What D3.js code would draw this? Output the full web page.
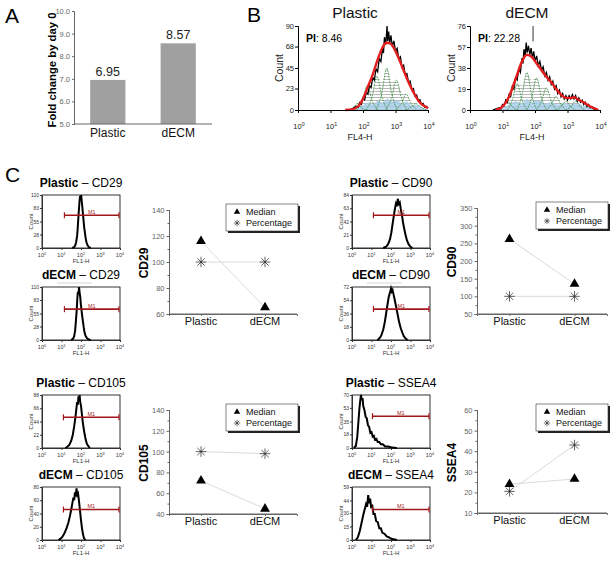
<!DOCTYPE html>
<html><head><meta charset="utf-8">
<script src="https://cdn.jsdelivr.net/npm/d3@7"></script>
<style>
body{margin:0;background:#fff}
svg{display:block;font-family:"Liberation Sans",Arial,sans-serif}
</style>
</head><body>
<svg id="c" width="612" height="563"></svg>
<script>
// ---------------- DATA ----------------
const categories = ["Plastic", "dECM"];
const foldChange = [6.95, 8.57];
const foldTicks = [5, 6, 7, 8, 9, 10];
const decades = [0, 1, 2, 3, 4];

// Panel B (x in log10 FL4-H, y = count)
const bTitles = ["Plastic", "dECM"];
const bPI = ["8.46", "22.28"];
const bPlasticTicks = [0, 23, 45, 68, 90];
const bDecmTicks = [0, 19, 38, 57, 76];
const bPlasticBlack = [[1.5,0],[1.6,0],[1.7,2],[1.8,4],[1.85,3],[1.9,8],[1.95,6],[2.0,13],[2.05,11],[2.1,19],[2.15,17],[2.2,26],[2.25,24],[2.3,35],[2.35,32],[2.4,44],[2.45,41],[2.5,55],[2.55,52],[2.6,66],[2.63,61],[2.66,78],[2.7,70],[2.74,90],[2.76,74],[2.79,84],[2.82,72],[2.86,80],[2.9,68],[2.95,74],[3.0,63],[3.05,66],[3.1,55],[3.15,57],[3.2,46],[3.25,48],[3.3,38],[3.35,39],[3.4,30],[3.45,31],[3.5,22],[3.55,23],[3.6,15],[3.65,16],[3.7,10],[3.75,11],[3.8,6],[3.85,7],[3.9,3],[3.95,4],[4.0,2]];
const bPlasticRed = [[1.45,0],[1.65,0.5],[1.85,4],[2.0,12],[2.15,25],[2.3,38],[2.45,54],[2.6,67],[2.72,72],[2.85,71],[3.0,63],[3.15,51],[3.3,38],[3.45,26],[3.6,16],[3.75,8],[3.9,4],[4.0,2]];
const bPlasticGens = [
  [[1.55,0],[1.7,2],[1.83,7],[1.96,2],[2.1,0]],
  [[1.8,0],[1.98,10],[2.13,26],[2.28,10],[2.45,0]],
  [[2.1,0],[2.28,14],[2.43,36],[2.58,14],[2.75,0]],
  [[2.4,0],[2.58,18],[2.73,45],[2.88,18],[3.05,0]],
  [[2.7,0],[2.88,13],[3.03,32],[3.18,13],[3.35,0]],
  [[3.0,0],[3.18,7],[3.33,17],[3.48,7],[3.65,0]],
  [[3.3,0],[3.48,3],[3.63,7],[3.78,3],[3.95,0]]
];
const bPlasticHatch = [[1.55,0],[1.83,7],[1.98,12],[2.13,26],[2.28,22],[2.43,36],[2.58,30],[2.73,45],[2.88,30],[3.03,32],[3.18,20],[3.33,17],[3.48,9],[3.63,7],[3.8,2],[3.95,0]];
const bPlasticBlue = [[1.6,0],[1.8,2],[2.0,5],[2.15,8],[2.3,6],[2.45,10],[2.6,8],[2.75,12],[2.9,9],[3.05,11],[3.2,7],[3.35,9],[3.5,5],[3.65,6],[3.8,3],[4.0,1]];

const bDecmBlack = [[0.7,0],[0.8,1],[0.9,2],[0.95,1],[1.0,5],[1.05,4],[1.1,9],[1.15,7],[1.2,14],[1.25,12],[1.3,21],[1.35,19],[1.4,29],[1.45,27],[1.5,37],[1.55,34],[1.6,47],[1.63,42],[1.66,55],[1.7,49],[1.73,61],[1.76,52],[1.8,58],[1.84,50],[1.88,56],[1.92,47],[1.96,53],[2.0,44],[2.05,49],[2.1,40],[2.15,44],[2.2,36],[2.25,39],[2.3,31],[2.35,34],[2.4,27],[2.45,30],[2.5,23],[2.55,26],[2.6,19],[2.65,22],[2.7,15],[2.75,18],[2.8,12],[2.85,15],[2.9,10],[2.95,13],[3.0,9],[3.05,13],[3.1,10],[3.15,14],[3.2,10],[3.25,13],[3.3,8],[3.35,11],[3.4,7],[3.45,9],[3.5,5],[3.55,7],[3.6,3],[3.65,5],[3.7,2],[3.75,3],[3.8,1],[3.9,0]];
const bDecmRed = [[0.8,0],[1.0,3],[1.2,12],[1.4,28],[1.6,44],[1.75,50],[1.9,48],[2.05,42],[2.2,36],[2.35,30],[2.5,25],[2.65,19],[2.8,14],[2.95,11],[3.1,11],[3.2,11.5],[3.35,9],[3.5,7],[3.65,4],[3.8,2],[3.95,0]];
const bDecmGens = [
  [[0.85,0],[1.0,3],[1.15,8],[1.3,3],[1.45,0]],
  [[1.15,0],[1.3,9],[1.45,24],[1.6,9],[1.75,0]],
  [[1.45,0],[1.6,13],[1.75,34],[1.9,13],[2.05,0]],
  [[1.75,0],[1.9,11],[2.05,29],[2.2,11],[2.35,0]],
  [[2.05,0],[2.2,8],[2.35,20],[2.5,8],[2.65,0]],
  [[2.35,0],[2.5,5],[2.65,12],[2.8,5],[2.95,0]],
  [[2.65,0],[2.8,3],[2.95,8],[3.1,3],[3.25,0]],
  [[2.95,0],[3.1,3],[3.25,8],[3.4,3],[3.55,0]]
];
const bDecmHatch = [[0.85,0],[1.15,8],[1.3,10],[1.45,24],[1.6,22],[1.75,34],[1.9,27],[2.05,29],[2.2,20],[2.35,20],[2.5,13],[2.65,12],[2.8,8],[2.95,8],[3.1,7],[3.25,8],[3.4,4],[3.55,0]];
const bDecmBlue = [[0.8,0],[1.0,2],[1.2,5],[1.4,8],[1.6,6],[1.75,10],[1.9,7],[2.1,9],[2.3,6],[2.5,7],[2.7,5],[2.9,6],[3.1,5],[3.3,6],[3.5,4],[3.7,3],[3.9,1],[4.0,0]];
const bDecmCursor = [1.94, 62];

// Panel C histograms (x in log10 FL1-H, y = count)
const histMarkers = ["CD29", "CD90", "CD105", "SSEA4"];
const pCD29Ticks = [0, 28, 55, 83, 110];
const dCD29Ticks = [0, 28, 55, 83, 110];
const pCD90Ticks = [0, 21, 42, 63, 84];
const dCD90Ticks = [0, 18, 36, 54, 72];
const pCD105Ticks = [0, 22, 44, 66, 88];
const dCD105Ticks = [0, 20, 40, 60, 80];
const pSSEA4Ticks = [0, 18, 35, 53, 70];
const dSSEA4Ticks = [0, 15, 30, 44, 59];
const pCD29 = [[1.55,0],[1.65,2],[1.7,5],[1.75,12],[1.8,25],[1.83,40],[1.86,60],[1.89,78],[1.92,95],[1.95,108],[1.98,100],[2.01,110],[2.04,96],[2.07,85],[2.1,70],[2.13,58],[2.16,44],[2.2,32],[2.24,20],[2.28,12],[2.33,6],[2.4,2],[2.5,0]];
const dCD29 = [[1.5,0],[1.6,3],[1.65,8],[1.7,20],[1.74,40],[1.78,62],[1.81,85],[1.84,100],[1.87,95],[1.9,110],[1.93,98],[1.96,90],[1.99,75],[2.02,64],[2.06,50],[2.1,38],[2.14,26],[2.18,16],[2.23,9],[2.3,4],[2.4,1],[2.5,0]];
const pCD90 = [[1.6,0],[1.75,2],[1.85,6],[1.95,14],[2.02,25],[2.08,38],[2.14,50],[2.2,62],[2.25,70],[2.3,66],[2.35,78],[2.4,70],[2.45,72],[2.5,62],[2.56,52],[2.62,40],[2.68,30],[2.75,20],[2.82,12],[2.9,6],[3.0,2],[3.1,0]];
const dCD90 = [[1.3,0],[1.4,2],[1.5,6],[1.6,14],[1.68,24],[1.75,36],[1.82,48],[1.88,58],[1.94,64],[2.0,70],[2.04,66],[2.08,68],[2.13,62],[2.18,56],[2.24,48],[2.3,40],[2.36,32],[2.42,24],[2.5,16],[2.58,10],[2.66,5],[2.75,2],[2.85,0]];
const pCD105 = [[1.2,0],[1.3,2],[1.4,5],[1.5,12],[1.58,22],[1.65,36],[1.71,50],[1.76,64],[1.8,76],[1.84,72],[1.87,86],[1.9,80],[1.93,88],[1.96,76],[2.0,70],[2.04,58],[2.08,46],[2.13,34],[2.18,24],[2.24,14],[2.3,7],[2.38,3],[2.45,0]];
const dCD105 = [[0.85,0],[0.95,2],[1.05,5],[1.15,10],[1.25,17],[1.35,26],[1.43,36],[1.5,46],[1.56,56],[1.61,64],[1.65,60],[1.69,72],[1.73,66],[1.77,78],[1.81,68],[1.85,70],[1.9,58],[1.95,44],[2.0,30],[2.05,18],[2.1,9],[2.15,3],[2.22,0]];
const pSSEA4 = [[0.1,0],[0.2,3],[0.27,15],[0.33,35],[0.38,52],[0.42,62],[0.46,70],[0.5,63],[0.54,66],[0.58,55],[0.64,50],[0.7,41],[0.76,39],[0.82,30],[0.88,28],[0.94,20],[1.0,21],[1.06,15],[1.12,16],[1.18,11],[1.25,12],[1.32,8],[1.4,8],[1.48,5],[1.58,5],[1.7,2],[1.85,2],[2.0,1],[2.15,0.5],[2.3,0]];
const dSSEA4 = [[0.2,0],[0.3,3],[0.4,10],[0.5,20],[0.58,28],[0.65,34],[0.72,40],[0.78,37],[0.83,50],[0.88,41],[0.93,46],[0.98,37],[1.04,38],[1.1,29],[1.17,29],[1.24,21],[1.32,20],[1.4,13],[1.48,13],[1.56,8],[1.66,7],[1.78,4],[1.9,3],[2.05,1],[2.2,0.5],[2.3,0]];
const m1Levels = [68, 64, 52, 42, 51, 46, 42, 34];
const m1Starts = [1.15, 1.15, 1.1, 1.1, 1.1, 1.1, 1.05, 1.05];

// Panel C scatter (Median / Percentage)
const legendLabels = ["Median", "Percentage"];
const cd29Median = [116, 65];
const cd29Pct = [100, 100];
const cd29Ticks = [60, 80, 100, 120, 140];
const cd90Median = [262, 135];
const cd90Pct = [100, 100];
const cd90Ticks = [50, 100, 150, 200, 250, 300, 350];
const cd105Median = [72, 45];
const cd105Pct = [100, 98];
const cd105Ticks = [40, 60, 80, 100, 120, 140];
const ssea4Median = [24, 26.5];
const ssea4Pct = [20.5, 43];
const ssea4Ticks = [10, 20, 30, 40, 50, 60];

// ---------------- DRAW ----------------
const FONT = "Liberation Sans, Arial, sans-serif";
const svg = d3.select("#c");
const defs = svg.append("defs");
const pat = defs.append("pattern").attr("id", "hatch").attr("patternUnits", "userSpaceOnUse").attr("width", 6).attr("height", 3);
pat.append("line").attr("x1", 0).attr("x2", 6).attr("y1", 1.5).attr("y2", 1.5).attr("stroke", "#8a8a8a").attr("stroke-width", 0.6);

function styleAxis(a, fs, color) {
  a.attr("font-family", FONT);
  a.selectAll("text").attr("font-size", fs).attr("fill", color || "#222");
  a.select(".domain").attr("stroke", color === undefined ? "#000" : color);
  a.selectAll(".tick line").attr("stroke", color === undefined ? "#000" : color);
}
function supTick(g, x, y, k, fs, fill) {
  const t = g.append("text").attr("x", x).attr("y", y).attr("text-anchor", "middle")
    .attr("font-size", fs).attr("fill", fill || "#222");
  t.append("tspan").text("10");
  t.append("tspan").attr("dy", -fs * 0.45).attr("font-size", fs * 0.7).text(k);
}
function letter(t, x, y) {
  svg.append("text").attr("x", x).attr("y", y).attr("font-size", 21).attr("fill", "#000").text(t);
}

// Panel A
letter("A", 5, 23);
(function () {
  const g = svg.append("g");
  const x = d3.scaleBand().domain(categories).range([74, 212]).paddingInner(0.5).paddingOuter(0.23);
  const y = d3.scaleLinear().domain([5, 10]).range([124, 11]);
  g.selectAll("rect").data(foldChange).join("rect")
    .attr("x", (d, i) => x(categories[i])).attr("y", d => y(d))
    .attr("width", x.bandwidth()).attr("height", d => y(5) - y(d)).attr("fill", "#a0a0a0");
  g.selectAll("text.val").data(foldChange).join("text").attr("class", "val")
    .attr("x", (d, i) => x(categories[i]) + x.bandwidth() / 2).attr("y", d => y(d) - 4)
    .attr("text-anchor", "middle").attr("font-size", 12.5).attr("fill", "#222").text(d => d.toFixed(2));
  const ya = g.append("g").attr("transform", "translate(74,0)")
    .call(d3.axisLeft(y).tickValues(foldTicks).tickSize(2).tickPadding(2));
  styleAxis(ya, 7.5, "#666");
  g.append("line").attr("x1", 74).attr("x2", 212).attr("y1", 124).attr("y2", 124).attr("stroke", "#666");
  g.selectAll("text.cat").data(categories).join("text").attr("class", "cat")
    .attr("x", d => x(d) + x.bandwidth() / 2).attr("y", 137).attr("text-anchor", "middle")
    .attr("font-size", 12).attr("fill", "#111").text(d => d);
  g.append("text").attr("transform", "translate(56,70) rotate(-90)").attr("text-anchor", "middle")
    .attr("font-size", 11.3).attr("font-weight", "bold").text("Fold change by day 0");
})();

// Panel B
letter("B", 247, 22);
function drawFlow(o) {
  const g = svg.append("g");
  const x = d3.scaleLinear().domain([0, 4]).range([o.left, o.right]);
  const y = d3.scaleLinear().domain([0, d3.max(o.ticks)]).range([o.bottom, o.top]);
  const sArea = d3.area().x(d => x(d[0])).y0(y(0)).y1(d => y(d[1])).curve(d3.curveMonotoneX);
  const sLine = d3.line().x(d => x(d[0])).y(d => y(d[1])).curve(d3.curveMonotoneX);
  const rLine = d3.line().x(d => x(d[0])).y(d => y(d[1]));
  g.append("path").attr("d", sArea(o.hatch)).attr("fill", "url(#hatch)");
  g.append("path").attr("d", sArea(o.blue)).attr("fill", "#a6cde8").attr("opacity", 0.85);
  o.gens.forEach(gen => g.append("path").attr("d", sLine(gen)).attr("fill", "none")
    .attr("stroke", "#2f8a3a").attr("stroke-width", 0.8).attr("stroke-dasharray", "1.6,1"));
  g.append("path").attr("d", rLine(o.black)).attr("fill", "none").attr("stroke", "#000").attr("stroke-width", 1.3);
  if (o.cursor) g.append("line").attr("x1", x(o.cursor[0])).attr("x2", x(o.cursor[0]))
    .attr("y1", o.top).attr("y2", y(o.cursor[1])).attr("stroke", "#000").attr("stroke-width", 0.8);
  g.append("path").attr("d", sLine(o.red)).attr("fill", "none").attr("stroke", "#e41e1e").attr("stroke-width", 2.4);
  const ya = g.append("g").attr("transform", `translate(${o.left},0)`)
    .call(d3.axisLeft(y).tickValues(o.ticks).tickSize(3).tickPadding(1));
  styleAxis(ya, 7.5);
  const xa = g.append("g").attr("transform", `translate(0,${o.bottom})`)
    .call(d3.axisBottom(x).tickValues(decades).tickSize(3).tickFormat(""));
  styleAxis(xa, 7.5);
  decades.forEach(k => supTick(g, x(k) + 1, o.bottom + 19, k, 7.5));
  g.append("text").attr("x", (o.left + o.right) / 2 - 3).attr("y", o.bottom + 30).attr("text-anchor", "middle")
    .attr("font-size", 9).attr("fill", "#222").text("FL4-H");
  g.append("text").attr("transform", `translate(${o.left - 15},${(o.top + o.bottom) / 2}) rotate(-90)`)
    .attr("text-anchor", "middle").attr("font-size", 10.5).attr("fill", "#222").text("Count");
  g.append("text").attr("x", (o.left + o.right) / 2 - 8).attr("y", 18).attr("text-anchor", "middle")
    .attr("font-size", 15.5).attr("fill", "#111").text(o.title);
  const pi = g.append("text").attr("x", o.left + 8).attr("y", o.top + 16).attr("font-size", 10.5).attr("fill", "#000");
  pi.append("tspan").attr("font-weight", "bold").text("PI");
  pi.append("tspan").text(": " + o.pi);
}
drawFlow({left: 298, right: 428, top: 26, bottom: 110, ticks: bPlasticTicks, title: bTitles[0], pi: bPI[0],
  black: bPlasticBlack, red: bPlasticRed, gens: bPlasticGens, hatch: bPlasticHatch, blue: bPlasticBlue});
drawFlow({left: 470, right: 600, top: 26, bottom: 110, ticks: bDecmTicks, title: bTitles[1], pi: bPI[1],
  black: bDecmBlack, red: bDecmRed, gens: bDecmGens, hatch: bDecmHatch, blue: bDecmBlue, cursor: bDecmCursor});

// Panel C
letter("C", 5, 182);
const HW = 78, HH = 53;
const histCols = [42, 352];
const histRows = [195, 287, 395, 487];
function drawHist(o) {
  const g = svg.append("g");
  const x = d3.scaleLinear().domain([0, 4]).range([o.left, o.left + HW]);
  const y = d3.scaleLinear().domain([0, d3.max(o.ticks)]).range([o.top + HH, o.top]);
  g.append("rect").attr("x", o.left).attr("y", o.top).attr("width", HW).attr("height", HH)
    .attr("fill", "none").attr("stroke", "#000").attr("stroke-width", 0.8);
  const ya = g.append("g").attr("transform", `translate(${o.left},0)`)
    .call(d3.axisLeft(y).tickValues(o.ticks).tickSize(2).tickPadding(1));
  styleAxis(ya, 5, "#333");
  const xa = g.append("g").attr("transform", `translate(0,${o.top + HH})`)
    .call(d3.axisBottom(x).tickValues(decades).tickSize(2).tickFormat(""));
  styleAxis(xa, 5, "#333");
  decades.forEach(k => supTick(g, x(k), o.top + HH + 9, k, 5.5, "#333"));
  g.append("text").attr("x", o.left + HW / 2).attr("y", o.top + HH + 15).attr("text-anchor", "middle")
    .attr("font-size", 6).attr("fill", "#333").text("FL1-H");
  g.append("text").attr("transform", `translate(${o.left - 9.5},${o.top + HH / 2}) rotate(-90)`)
    .attr("text-anchor", "middle").attr("font-size", 6).attr("fill", "#333").text("Count");
  const t = g.append("text").attr("x", o.left + HW / 2).attr("y", o.top - 8).attr("text-anchor", "middle")
    .attr("font-size", 12).attr("fill", "#000");
  t.append("tspan").attr("font-weight", "bold").text(o.bold);
  t.append("tspan").text(" \u2013 " + o.marker);
  if (o.bold === "dECM" && (o.marker === "CD29" || o.marker === "CD90"))
    g.append("line").attr("x1", o.left + 15).attr("x2", o.left + 50).attr("y1", o.top - 4).attr("y2", o.top - 4)
      .attr("stroke", "#bbb").attr("stroke-width", 0.6);
  g.append("path").attr("d", d3.line().x(d => x(d[0])).y(d => y(d[1]))(o.data))
    .attr("fill", "none").attr("stroke", "#000").attr("stroke-width", 2);
  const my = y(o.m1), x0 = x(o.m1s), x1 = x(4) - 1;
  const red = "#a3171b";
  g.append("line").attr("x1", x0).attr("x2", x1).attr("y1", my).attr("y2", my).attr("stroke", red).attr("stroke-width", 1.6);
  [x0, x1].forEach(xx => g.append("line").attr("x1", xx).attr("x2", xx).attr("y1", my - 3).attr("y2", my + 3)
    .attr("stroke", red).attr("stroke-width", 1.2));
  g.append("text").attr("x", (x0 + x1) / 2).attr("y", my - 1.5).attr("text-anchor", "middle")
    .attr("font-size", 5.5).attr("fill", red).text("M1");
}
const histPanels = [
  {c: 0, r: 0, bold: "Plastic", marker: histMarkers[0], ticks: pCD29Ticks, data: pCD29},
  {c: 0, r: 1, bold: "dECM", marker: histMarkers[0], ticks: dCD29Ticks, data: dCD29},
  {c: 1, r: 0, bold: "Plastic", marker: histMarkers[1], ticks: pCD90Ticks, data: pCD90},
  {c: 1, r: 1, bold: "dECM", marker: histMarkers[1], ticks: dCD90Ticks, data: dCD90},
  {c: 0, r: 2, bold: "Plastic", marker: histMarkers[2], ticks: pCD105Ticks, data: pCD105},
  {c: 0, r: 3, bold: "dECM", marker: histMarkers[2], ticks: dCD105Ticks, data: dCD105},
  {c: 1, r: 2, bold: "Plastic", marker: histMarkers[3], ticks: pSSEA4Ticks, data: pSSEA4},
  {c: 1, r: 3, bold: "dECM", marker: histMarkers[3], ticks: dSSEA4Ticks, data: dSSEA4}
];
histPanels.forEach((p, i) => drawHist(Object.assign({left: histCols[p.c], top: histRows[p.r], m1: m1Levels[i], m1s: m1Starts[i]}, p)));

const asterisk = {
  draw(ctx, size) {
    const r = Math.sqrt(size) / 2;
    const q = r * Math.SQRT1_2;
    ctx.moveTo(0, -r); ctx.lineTo(0, r);
    ctx.moveTo(-r, 0); ctx.lineTo(r, 0);
    ctx.moveTo(-q, -q); ctx.lineTo(q, q);
    ctx.moveTo(-q, q); ctx.lineTo(q, -q);
  }
};
function drawScatter(o) {
  const g = svg.append("g");
  const x = d3.scalePoint().domain(categories).range([o.left, o.right]).padding(0.5);
  const y = d3.scaleLinear().domain(d3.extent(o.ticks)).range([o.bottom, o.top]);
  const minor = o.ticks.slice(1).map((t, i) => (t + o.ticks[i]) / 2);
  const ya = g.append("g").attr("transform", `translate(${o.left},0)`)
    .call(d3.axisLeft(y).tickValues(o.ticks).tickSize(2.5).tickPadding(2));
  styleAxis(ya, 7.5, "#666");
  const ym = g.append("g").attr("transform", `translate(${o.left},0)`)
    .call(d3.axisLeft(y).tickValues(minor).tickSize(1.5).tickFormat(""));
  styleAxis(ym, 7.5, "#666");
  const xa = g.append("g").attr("transform", `translate(0,${o.bottom})`)
    .call(d3.axisBottom(x).tickSize(2).tickFormat(""));
  styleAxis(xa, 7.5, "#666");
  g.append("line").attr("x1", o.left).attr("x2", o.right).attr("y1", o.bottom).attr("y2", o.bottom).attr("stroke", "#666");
  g.selectAll("text.cat").data(categories).join("text").attr("class", "cat")
    .attr("x", d => x(d)).attr("y", o.bottom + 11).attr("text-anchor", "middle")
    .attr("font-size", 11).attr("fill", "#111").text(d => d);
  g.append("text").attr("transform", `translate(${o.left - 21},${(o.top + o.bottom) / 2 + 1}) rotate(-90)`)
    .attr("text-anchor", "middle").attr("font-size", 12).attr("font-weight", "bold").text(o.label);
  const ln = d3.line().x((d, i) => x(categories[i])).y(d => y(d));
  g.append("path").attr("d", ln(o.pct)).attr("fill", "none").attr("stroke", "#d0d0d0").attr("stroke-width", 0.8);
  g.append("path").attr("d", ln(o.median)).attr("fill", "none").attr("stroke", "#d0d0d0").attr("stroke-width", 0.8);
  g.selectAll("path.star").data(o.pct).join("path").attr("class", "star")
    .attr("transform", (d, i) => `translate(${x(categories[i])},${y(d)})`)
    .attr("d", d3.symbol(asterisk, 110)).attr("fill", "none").attr("stroke", "#222").attr("stroke-width", 0.7);
  g.selectAll("path.tri").data(o.median).join("path").attr("class", "tri")
    .attr("transform", (d, i) => `translate(${x(categories[i])},${y(d)})`)
    .attr("d", d3.symbol(d3.symbolTriangle, 42)).attr("fill", "#000");
  // legend
  const bw = 72, bh = 27, bx = o.right + 1 - bw, by = o.top - 6;
  g.append("rect").attr("x", bx + 2).attr("y", by + 2).attr("width", bw).attr("height", bh).attr("fill", "#222");
  g.append("rect").attr("x", bx).attr("y", by).attr("width", bw).attr("height", bh).attr("fill", "#fff")
    .attr("stroke", "#333").attr("stroke-width", 0.6);
  g.append("path").attr("transform", `translate(${bx + 11},${by + 8})`).attr("d", d3.symbol(d3.symbolTriangle, 18)).attr("fill", "#000");
  g.append("path").attr("transform", `translate(${bx + 11},${by + 19})`).attr("d", d3.symbol(asterisk, 40))
    .attr("fill", "none").attr("stroke", "#222").attr("stroke-width", 0.6);
  legendLabels.forEach((l, i) => g.append("text").attr("x", bx + 20).attr("y", by + 11 + i * 11)
    .attr("font-size", 9).attr("fill", "#111").text(l));
}
drawScatter({left: 169, right: 297, bottom: 314, top: 210, ticks: cd29Ticks, label: histMarkers[0], median: cd29Median, pct: cd29Pct});
drawScatter({left: 477, right: 607, bottom: 314, top: 208, ticks: cd90Ticks, label: histMarkers[1], median: cd90Median, pct: cd90Pct});
drawScatter({left: 169, right: 297, bottom: 514, top: 410, ticks: cd105Ticks, label: histMarkers[2], median: cd105Median, pct: cd105Pct});
drawScatter({left: 477, right: 607, bottom: 513, top: 410, ticks: ssea4Ticks, label: histMarkers[3], median: ssea4Median, pct: ssea4Pct});
</script>
</body></html>
